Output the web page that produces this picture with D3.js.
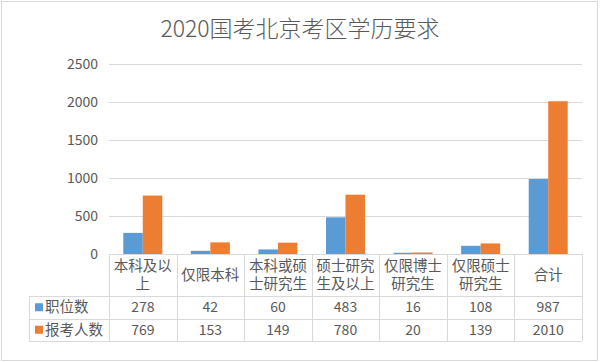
<!DOCTYPE html>
<html><head><meta charset="utf-8">
<script src="https://cdn.jsdelivr.net/npm/d3@7/dist/d3.min.js"></script>
<style>body{margin:0;background:#fff}svg{display:block}text{font-family:"Noto Sans CJK SC","Noto Sans",sans-serif;fill:#595959}</style>
</head><body><svg id="c" width="602" height="362"></svg>
<script>
const title = "2020国考北京考区学历要求";
const categories = [["本科及以","上"],["仅限本科"],["本科或硕","士研究生"],["硕士研究","生及以上"],["仅限博士","研究生"],["仅限硕士","研究生"],["合计"]];
const seriesNames = ["职位数","报考人数"];
const positions = [278,42,60,483,16,108,987];
const applicants = [769,153,149,780,20,139,2010];
const yTicks = [0,500,1000,1500,2000,2500];
const colors = ["#5B9BD5","#ED7D31"];

const svg = d3.select("#c");
const L = 109, R = 582, T = 64, B = 254;
svg.append("rect").attr("x",1.5).attr("y",1.5).attr("width",596).attr("height",359).attr("fill","#fff").attr("stroke","#d9d9d9");
svg.append("text").attr("x",300).attr("y",37).attr("text-anchor","middle").attr("font-size",23).attr("font-weight",300).text(title);

const y = d3.scaleLinear().domain([0,2500]).range([B,T]);
const idx = categories.map((d,i)=>i);
const x0 = d3.scaleBand().domain(idx).range([L,R]).paddingInner(0.423).paddingOuter(0.2115);
const x1 = d3.scaleBand().domain([0,1]).range([0,x0.bandwidth()]);
const xCol = d3.scaleBand().domain(idx).range([L,R]);

// gridlines
const yAxis = d3.axisLeft(y).tickValues(yTicks).tickSize(-(R-L)).tickPadding(11).tickFormat(d3.format("d"));
const ga = svg.append("g").attr("transform",`translate(${L},0)`).call(yAxis);
ga.select(".domain").remove();
ga.selectAll(".tick line").attr("stroke","#d9d9d9").attr("shape-rendering","crispEdges");
ga.selectAll(".tick text").attr("font-size",14).attr("fill","#595959").attr("dy","0.35em").style("font-family","'Noto Sans CJK SC',sans-serif");

const series = [positions, applicants];
series.forEach((vals,s)=>{
  svg.append("g").selectAll("rect").data(vals).join("rect")
    .attr("x",(d,i)=>x0(i)+x1(s)).attr("width",x1.bandwidth())
    .attr("y",d=>y(d)).attr("height",d=>B-y(d)).attr("fill",colors[s]);
});

// data table
const rowY = [B, 296, 318.5, 341];
const tbl = svg.append("g").attr("stroke","#d9d9d9").attr("shape-rendering","crispEdges");
const TL = 29;
tbl.append("line").attr("x1",L).attr("x2",R).attr("y1",B+0.5).attr("y2",B+0.5);
[rowY[1],rowY[2],rowY[3]].forEach(v=>tbl.append("line").attr("x1",TL).attr("x2",R).attr("y1",Math.round(v)+0.5).attr("y2",Math.round(v)+0.5));
tbl.append("line").attr("x1",TL+0.5).attr("x2",TL+0.5).attr("y1",Math.round(rowY[1])).attr("y2",Math.round(rowY[3]));
idx.concat([idx.length]).forEach(i=>{
  const xv = i<idx.length ? xCol(i) : R;
  tbl.append("line").attr("x1",Math.round(xv)+0.5).attr("x2",Math.round(xv)+0.5).attr("y1",B).attr("y2",Math.round(rowY[3]));
});
// header labels (one text element per cell, lines as tspans)
categories.forEach((lines,i)=>{
  const cx = xCol(i)+xCol.bandwidth()/2;
  const cy = (rowY[0]+rowY[1])/2;
  const t = svg.append("text").attr("x",cx).attr("y",cy-(lines.length-1)*9)
    .attr("text-anchor","middle").attr("font-size",14.5);
  lines.forEach((s,k)=>{
    t.append("tspan").attr("x",cx).attr("dy",k===0?"0.35em":"18").text(s);
  });
});
// values
series.forEach((vals,s)=>{
  const cy = (rowY[s+1]+rowY[s+2])/2;
  vals.forEach((v,i)=>{
    svg.append("text").attr("x",xCol(i)+xCol.bandwidth()/2).attr("y",cy).attr("dy","0.35em")
      .attr("text-anchor","middle").attr("font-size",14).text(v);
  });
  svg.append("rect").attr("x",35).attr("y",cy-4).attr("width",8).attr("height",8).attr("fill",colors[s]);
  svg.append("text").attr("x",45).attr("y",cy).attr("dy","0.35em").attr("font-size",14.5).text(seriesNames[s]);
});
</script></body></html>
